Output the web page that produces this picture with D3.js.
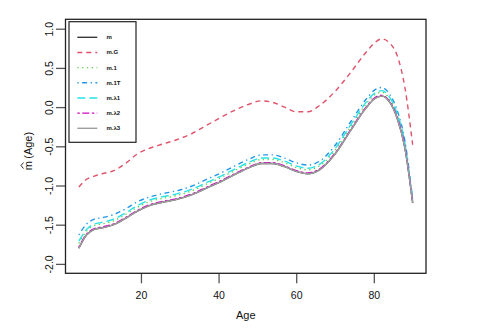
<!DOCTYPE html>
<html>
<head>
<meta charset="utf-8">
<script src="https://cdn.jsdelivr.net/npm/d3@7"></script>
<style>
  body { margin: 0; background: #fff; }
  svg { font-family: "Liberation Sans", Arial, sans-serif; }
</style>
</head>
<body>
<div id="chart"></div>
<script>
// data
var ages = [4, 6, 8, 10, 13, 16, 19, 22, 25, 29, 33, 37, 41, 45, 48, 51, 54, 57, 60, 63, 66, 70, 74, 78, 80, 82, 84, 86, 88, 90]

var mVals   = [-1.80, -1.63, -1.56, -1.54, -1.50, -1.42, -1.33, -1.26, -1.22, -1.18, -1.12, -1.03, -0.94, -0.84, -0.77, -0.72, -0.72, -0.76, -0.82, -0.85, -0.80, -0.60, -0.30, -0.01, 0.10, 0.14, 0.07, -0.14, -0.52, -1.22]
var mGVals  = [-1.02, -0.92, -0.88, -0.85, -0.81, -0.72, -0.60, -0.53, -0.48, -0.42, -0.34, -0.23, -0.12, -0.02, 0.04, 0.08, 0.06, 0.00, -0.06, -0.06, 0.02, 0.20, 0.44, 0.70, 0.81, 0.87, 0.82, 0.66, 0.25, -0.48]
var m1Vals  = [-1.74, -1.58, -1.51, -1.49, -1.45, -1.37, -1.28, -1.21, -1.17, -1.13, -1.07, -0.98, -0.89, -0.79, -0.72, -0.67, -0.67, -0.71, -0.77, -0.80, -0.75, -0.55, -0.25, 0.04, 0.15, 0.19, 0.11, -0.10, -0.48, -1.21]
var m1TVals = [-1.63, -1.49, -1.43, -1.41, -1.37, -1.30, -1.21, -1.15, -1.11, -1.07, -1.01, -0.92, -0.83, -0.73, -0.66, -0.61, -0.61, -0.65, -0.71, -0.74, -0.69, -0.49, -0.19, 0.10, 0.21, 0.25, 0.17, -0.04, -0.43, -1.18]
var mh1Vals = [-1.71, -1.56, -1.49, -1.47, -1.43, -1.35, -1.26, -1.19, -1.15, -1.11, -1.05, -0.96, -0.87, -0.77, -0.70, -0.65, -0.65, -0.69, -0.75, -0.78, -0.73, -0.53, -0.23, 0.06, 0.17, 0.21, 0.13, -0.08, -0.46, -1.20]
var mh2Vals = [-1.79, -1.62, -1.55, -1.53, -1.49, -1.41, -1.32, -1.25, -1.21, -1.17, -1.11, -1.02, -0.93, -0.83, -0.76, -0.71, -0.71, -0.75, -0.81, -0.84, -0.79, -0.59, -0.29, 0.00, 0.11, 0.15, 0.08, -0.13, -0.51, -1.22]
var mh3Vals = [-1.80, -1.63, -1.56, -1.54, -1.50, -1.42, -1.33, -1.26, -1.22, -1.18, -1.12, -1.03, -0.94, -0.84, -0.77, -0.72, -0.72, -0.76, -0.82, -0.85, -0.80, -0.60, -0.30, -0.01, 0.10, 0.14, 0.07, -0.14, -0.52, -1.22]

var seriesNames = ["m", "m.G", "m.1", "m.1T", "m.\u03bb1", "m.\u03bb2", "m.\u03bb3"]
var seriesColors = ["#3a3a3a", "#DF536B", "#61D04F", "#2297E6", "#28E2E5", "#CD0BBC", "#9E9E9E"]
var seriesDash = [null, "5,4", "1.3,3.5", "1.3,3.5,5,3.5", "8,4", "2.5,2.5,7,2.5", null]
var xTicks = [20, 40, 60, 80]
var yTicks = [-2, -1.5, -1, -0.5, 0, 0.5, 1]

var seriesVals = [mVals, mGVals, m1Vals, m1TVals, mh1Vals, mh2Vals, mh3Vals]

var width = 479
var height = 330
var plot = { left: 65.5, right: 426, top: 19.3, bottom: 273.3 }

var svg = d3.select("#chart")
  .append("svg")
  .attr("width", width)
  .attr("height", height)

// R style 4% padding on x, ylim = c(-2, 1)
var xPad = (90 - 4) * 0.04
var xScale = d3.scaleLinear()
  .domain([4 - xPad, 90 + xPad])
  .range([plot.left, plot.right])

var yScale = d3.scaleLinear()
  .domain([-2.12, 1.12])
  .range([plot.bottom, plot.top])

var line = d3.line()
  .x((d, i) => xScale(ages[i]))
  .y(d => yScale(d))
  .curve(d3.curveMonotoneX)

// curves
svg.append("g")
  .attr("class", "curves")
  .selectAll("path")
  .data(seriesVals)
  .enter()
  .append("path")
  .attr("d", d => line(d))
  .style("fill", "none")
  .style("stroke", (d, i) => seriesColors[i])
  .style("stroke-width", 1.4)
  .style("stroke-dasharray", (d, i) => seriesDash[i])

// X axis
var xAxis = d3.axisBottom(xScale)
  .tickValues(xTicks)
  .tickSize(10)
  .tickFormat(d => d)

svg.append("g")
  .attr("transform", `translate(0,${plot.bottom})`)
  .attr("class", "x-axis")
  .call(xAxis)
  .call(g => g.select(".domain").remove())
  .call(g => g.selectAll(".tick line").style("stroke", "#555").style("stroke-width", 1.3))
  .selectAll("text")
  .attr("y", 26)
  .attr("dy", 0)
  .style("fill", "#111")
  .style("font-size", "10.5px")
  .style("font-family", "Liberation Sans, Arial, sans-serif")

// Y axis
var yAxis = d3.axisLeft(yScale)
  .tickValues(yTicks)
  .tickSize(9.5)
  .tickFormat(d => d.toFixed(1).replace("\u2212", "-"))

svg.append("g")
  .attr("transform", `translate(${plot.left},0)`)
  .attr("class", "y-axis")
  .call(yAxis)
  .call(g => g.select(".domain").remove())
  .call(g => g.selectAll(".tick line").style("stroke", "#555").style("stroke-width", 1.3))
  .selectAll("text")
  .attr("transform", "rotate(-90)")
  .attr("x", 0)
  .attr("y", -12.5)
  .attr("dy", 0)
  .style("text-anchor", "middle")
  .style("fill", "#111")
  .style("font-size", "10.5px")
  .style("font-family", "Liberation Sans, Arial, sans-serif")

// plot box
svg.append("rect")
  .attr("x", plot.left)
  .attr("y", plot.top)
  .attr("width", plot.right - plot.left)
  .attr("height", plot.bottom - plot.top)
  .style("fill", "none")
  .style("stroke", "#222")
  .style("stroke-width", 1.3)

// axis titles
svg.append("text")
  .attr("x", (plot.left + plot.right) / 2)
  .attr("y", 319)
  .attr("text-anchor", "middle")
  .style("font-size", "11px")
  .style("fill", "#111")
  .text("Age")

var yTitle = svg.append("g")
  .attr("transform", "translate(32,151) rotate(-90)")

var yTitleText = yTitle.append("text")
  .attr("x", 0)
  .attr("y", 0)
  .attr("text-anchor", "middle")
  .style("font-size", "11px")
  .style("fill", "#111")
  .text("m\u2009(Age)")

// hat over the m
var titleLen = yTitleText.node().getComputedTextLength()
var mLen = yTitleText.node().getSubStringLength(0, 1)
var hatX = -titleLen / 2 + mLen / 2

yTitle.append("path")
  .attr("d", `M${hatX - 3},-8.5 L${hatX},-11 L${hatX + 3},-8.5`)
  .style("fill", "none")
  .style("stroke", "#111")
  .style("stroke-width", 0.9)

// legend
var legendRows = d3.scalePoint()
  .domain(seriesNames)
  .range([37.3, 128.3])

var legend = svg.append("g").attr("class", "legend")

legend.append("rect")
  .attr("x", 69)
  .attr("y", 21.7)
  .attr("width", 67)
  .attr("height", 120.6)
  .style("fill", "#fff")
  .style("stroke", "#222")
  .style("stroke-width", 1.2)

legend.selectAll("line.key")
  .data(seriesNames)
  .enter()
  .append("line")
  .attr("class", "key")
  .attr("x1", 77.3)
  .attr("x2", 97.3)
  .attr("y1", d => legendRows(d))
  .attr("y2", d => legendRows(d))
  .style("stroke", (d, i) => seriesColors[i])
  .style("stroke-width", 1.4)
  .style("stroke-dasharray", (d, i) => seriesDash[i])

legend.selectAll("text.key")
  .data(seriesNames)
  .enter()
  .append("text")
  .attr("class", "key")
  .attr("x", 106.5)
  .attr("y", d => legendRows(d) + 2)
  .style("font-size", "6px")
  .style("font-weight", "bold")
  .style("fill", "#111")
  .text(d => d)
</script>
</body>
</html>
